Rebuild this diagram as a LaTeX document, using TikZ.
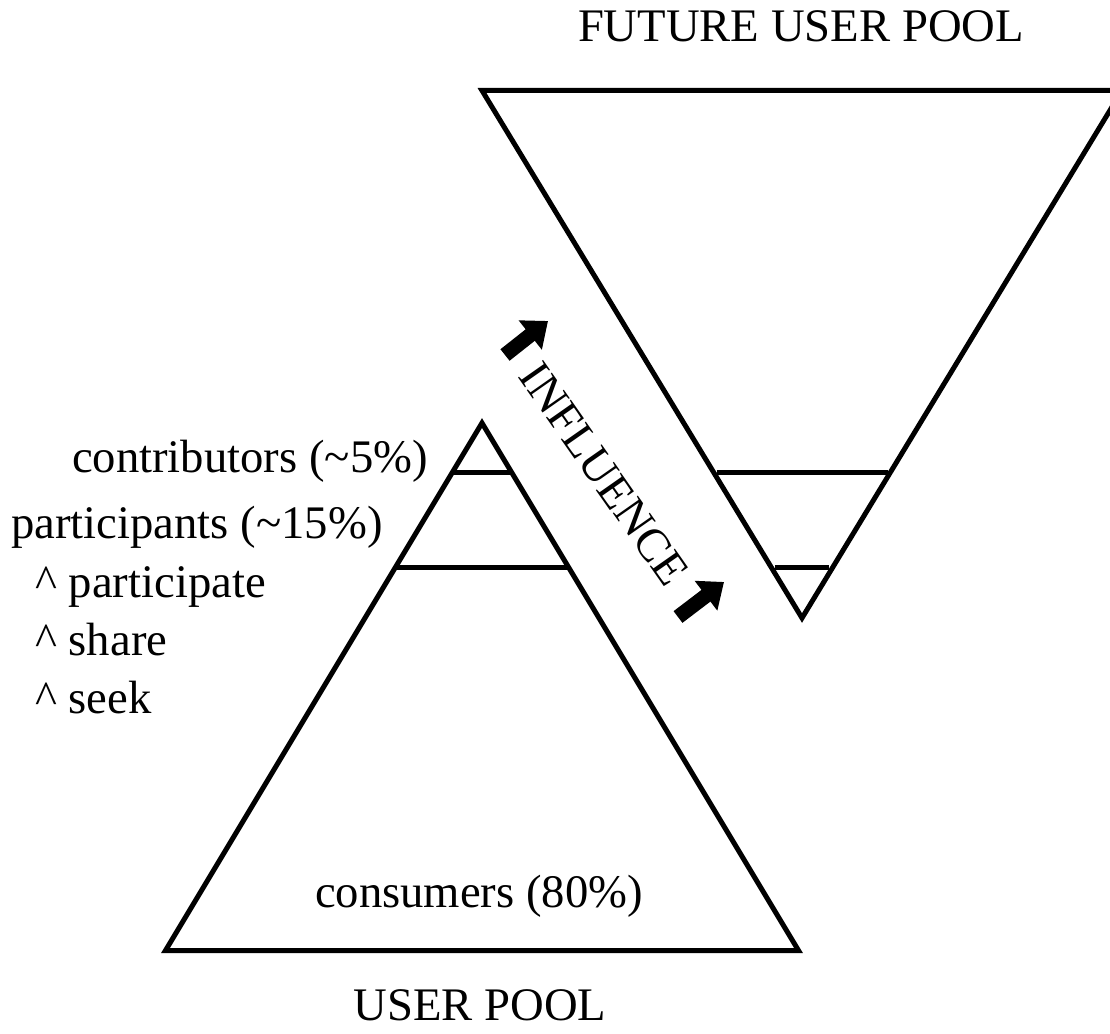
\documentclass[tikz,border=0pt]{standalone}
\usepackage{fontspec}
\setmainfont{Liberation Serif}
\usetikzlibrary{arrows.meta}
\begin{document}
\begin{tikzpicture}[x=0.75pt,y=-0.75pt,
  outline/.style={line width=3.75pt, line join=miter},
  lbl/.style={inner sep=0pt, font=\fontsize{35}{40}\selectfont},
  bigarrow/.style={line width=11pt, -{Triangle[length=17pt,width=27pt]}}]
\useasboundingbox (0,0) rectangle (1110,1034);
\clip (0,0) rectangle (1110,1034);
% future user pool (inverted triangle)
\coordinate (ftl) at (482,90.5);
\coordinate (ftr) at (1122,90.5);
\coordinate (fbot) at (802,618);
\draw[outline] (ftl) -- (ftr) -- (fbot) -- cycle;
\coordinate (fa1) at (716.5,472.5);
\coordinate (fa2) at (887.5,472.5);
\coordinate (fb1) at (774.8,567.5);
\coordinate (fb2) at (829.2,567.5);
\draw[outline] (fa1) -- (fa2);
\draw[outline] (fb1) -- (fb2);
% user pool (triangle)
\coordinate (uapex) at (482,423);
\coordinate (ubl) at (165.5,950.5);
\coordinate (ubr) at (798.5,950.5);
\draw[outline] (uapex) -- (ubr) -- (ubl) -- cycle;
\coordinate (ua1) at (452,472.5);
\coordinate (ua2) at (512,472.5);
\coordinate (ub1) at (395,567.5);
\coordinate (ub2) at (569,567.5);
\draw[outline] (ua1) -- (ua2);
\draw[outline] (ub1) -- (ub2);
% labels
\node[lbl, anchor=base] (future) at (801,42) {FUTURE USER POOL};
\node[lbl, anchor=base] (user) at (480,1020) {USER POOL};
\node[lbl, anchor=base] (cons) at (479,907) {consumers (80\%)};
\node[lbl, anchor=base east] (contrib) at (428,472) {contributors (\textasciitilde 5\%)};
\node[lbl, anchor=base west] (partic) at (11,538) {participants (\textasciitilde 15\%)};
\node[lbl, anchor=base west] (act1) at (35,597) {\textasciicircum{} participate};
\node[lbl, anchor=base west] (act2) at (35,655) {\textasciicircum{} share};
\node[lbl, anchor=base west] (act3) at (35,713) {\textasciicircum{} seek};
\node[lbl, rotate=-55] (infl) at (604,474) {INFLUENCE};
% influence arrows
\coordinate (a1s) at (505,355);
\coordinate (a1e) at (548,321);
\coordinate (a2s) at (678,617);
\coordinate (a2e) at (724,582);
\draw[bigarrow] (a1s) -- (a1e);
\draw[bigarrow] (a2s) -- (a2e);
\end{tikzpicture}
\end{document}
